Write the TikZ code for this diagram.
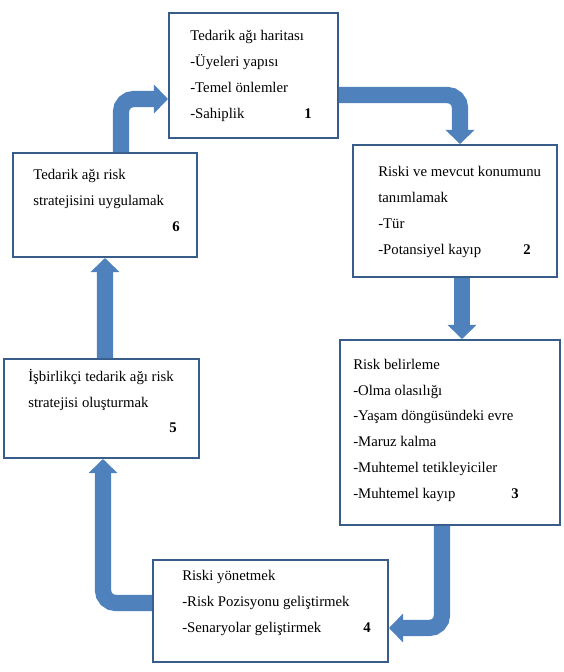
\documentclass[tikz,border=0pt]{standalone}
\usepackage{fontspec}
\setmainfont{Liberation Serif}
\usepackage{xcolor}
\usetikzlibrary{positioning,calc,fit,arrows.meta}
\definecolor{flowblue}{HTML}{4F81BD}
\definecolor{boxblue}{HTML}{385D8A}
\tikzset{
  box/.style={draw=boxblue, line width=1.4pt, fill=white, inner sep=0pt},
  txt/.style={anchor=base west, align=left, inner sep=0pt, font=\fontsize{10.5}{18.3}\selectfont},
  num/.style={anchor=base, inner sep=0pt, font=\fontsize{10.5}{12}\selectfont\bfseries},
  flow/.style={draw=flowblue, line width=11.5pt, rounded corners=9pt, -{Triangle[width=20pt,length=10pt]}}
}

\begin{document}
\begin{tikzpicture}[x=0.025cm, y=-0.025cm]
    \useasboundingbox (0,0) rectangle (564,672);

    % Boxes
    \node[box, fit={(169,13) (338,138)}] (b1) {};
    \node[box, fit={(353,145) (557,277)}] (b2) {};
    \node[box, fit={(340,340) (560,525)}] (b3) {};
    \node[box, fit={(153,560) (388,662)}] (b4) {};
    \node[box, fit={(4,359) (199,458)}] (b5) {};
    \node[box, fit={(13,153) (197,257)}] (b6) {};

    % Texts (placed at the baseline of the last line)
    \node[txt] (t1) at (190,118) {Tedarik ağı haritası\\-Üyeleri yapısı\\-Temel önlemler\\-Sahiplik};
    \node[num] (n1) at (308,118) {1};
    \node[txt] (t2) at (378,254) {Riski ve mevcut konumunu\\tanımlamak\\-Tür\\-Potansiyel kayıp};
    \node[num] (n2) at (527,254) {2};
    \node[txt] (t3) at (353,498) {Risk belirleme\\-Olma olasılığı\\-Yaşam döngüsündeki evre\\-Maruz kalma\\-Muhtemel tetikleyiciler\\-Muhtemel kayıp};
    \node[num] (n3) at (515,498) {3};
    \node[txt] (t4) at (182,632) {Riski yönetmek\\-Risk Pozisyonu geliştirmek\\-Senaryolar geliştirmek};
    \node[num] (n4) at (367,632) {4};
    \node[txt] (t5) at (28,407) {İşbirlikçi tedarik ağı risk\\stratejisi oluşturmak};
    \node[num] (n5) at (173,432) {5};
    \node[txt] (t6) at (33,205) {Tedarik ağı risk\\stratejisini uygulamak};
    \node[num] (n6) at (176,231) {6};

    % Cycle arrows
    \draw[flow] ($(b6.north)+(16,0)$) |- ($(b1.west)+(0,23.5)$);
    \draw[flow] ($(b1.east)+(0,19.5)$) -| ($(b2.north)+(5,0)$);
    \draw[flow] ($(b2.south)+(7,0)$) -- ($(b3.north)+(12,0)$);
    \draw[flow] ($(b3.south)+(-8,0)$) |- ($(b4.east)+(0,17)$);
    \draw[flow] ($(b4.west)+(0,-8)$) -| ($(b5.south)+(1.5,0)$);
    \draw[flow] ($(b5.north)+(3.5,0)$) -- (b6.south);
\end{tikzpicture}
\end{document}
